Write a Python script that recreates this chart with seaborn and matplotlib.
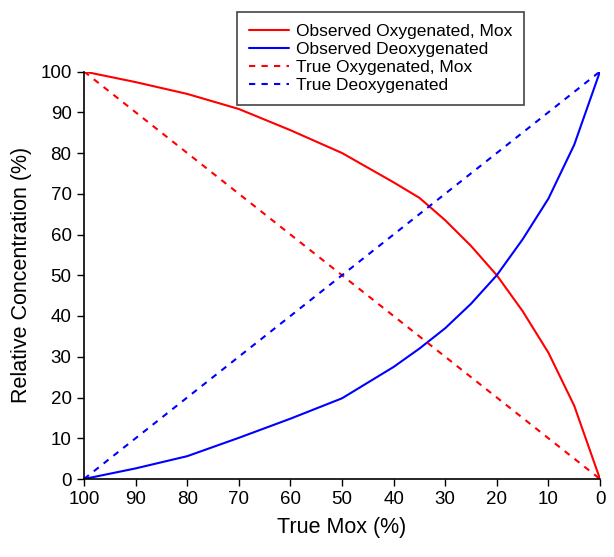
import matplotlib
matplotlib.use("Agg")
import matplotlib.pyplot as plt
import seaborn as sns
import pandas as pd

sns.set_theme(style="ticks")
plt.rcParams['font.family'] = ['Liberation Sans', 'DejaVu Sans']
plt.rcParams['text.color'] = 'black'
plt.rcParams['axes.labelcolor'] = 'black'
plt.rcParams['xtick.color'] = 'black'
plt.rcParams['ytick.color'] = 'black'

# Data
true_mox = [100, 90, 80, 70, 60, 50, 40, 35, 30, 25, 20, 15, 10, 5, 0]
obs_oxy = [100, 97.4, 94.5, 90.8, 85.6, 80, 72.8, 69, 63.5, 57.2, 50, 41.2, 31, 18, 0]
obs_deoxy = [0, 2.6, 5.6, 10.1, 14.8, 19.8, 27.5, 32, 37, 43, 50, 58.8, 68.8, 82, 100]
true_x = [100, 0]
true_oxy = [100, 0]
true_deoxy = [0, 100]

labels = ["Observed Oxygenated, Mox", "Observed Deoxygenated",
          "True Oxygenated, Mox", "True Deoxygenated"]

fig = plt.figure(figsize=(6.14, 5.57), dpi=100)
ax = fig.add_axes([84/614, 1-479/557, (600-84)/614, (479-71.5)/557])

df_oo = pd.DataFrame({"x": true_mox, "y": obs_oxy})
df_od = pd.DataFrame({"x": true_mox, "y": obs_deoxy})
df_to = pd.DataFrame({"x": true_x, "y": true_oxy})
df_td = pd.DataFrame({"x": true_x, "y": true_deoxy})

sns.lineplot(data=df_oo, x="x", y="y", ax=ax, color="#ff0000", lw=1.5,
             label=labels[0], sort=False, estimator=None)
sns.lineplot(data=df_od, x="x", y="y", ax=ax, color="#0000ff", lw=1.5,
             label=labels[1], sort=False, estimator=None)
sns.lineplot(data=df_to, x="x", y="y", ax=ax, color="#ff0000", lw=1.5,
             label=labels[2], sort=False, estimator=None)
sns.lineplot(data=df_td, x="x", y="y", ax=ax, color="#0000ff", lw=1.5,
             label=labels[3], sort=False, estimator=None)
ax.lines[2].set_dashes([3, 3])
ax.lines[3].set_dashes([3, 3])

ax.set_xlim(100, 0)
ax.set_ylim(0, 100)
ax.set_xticks(range(100, -1, -10))
ax.set_yticks(range(0, 101, 10))
ax.tick_params(axis='both', labelsize=13.5, length=5, width=1, direction='out',
               colors='black', pad=4)
for s in ["top", "right"]:
    ax.spines[s].set_visible(False)
for s in ["left", "bottom"]:
    ax.spines[s].set_color("black")
    ax.spines[s].set_linewidth(1.2)

ax.set_xlabel("True Mox (%)", fontsize=15.5, labelpad=6, color="black")
ax.set_ylabel("Relative Concentration (%)", fontsize=15.5, labelpad=6, color="black")

handles, labs = ax.get_legend_handles_labels()
if ax.legend_:
    ax.legend_.remove()
leg = fig.legend(handles, labs, loc="upper left",
                 bbox_to_anchor=(237/614, 1-12/557), bbox_transform=fig.transFigure,
                 fontsize=12.5, frameon=True, fancybox=False, framealpha=1,
                 edgecolor="#444444", handlelength=2.3, handletextpad=0.4,
                 labelspacing=0.17, borderpad=0.68, borderaxespad=0)
leg.get_frame().set_linewidth(1.2)
for t in leg.get_texts():
    t.set_color("black")

fig.savefig("out.png", dpi=100)
